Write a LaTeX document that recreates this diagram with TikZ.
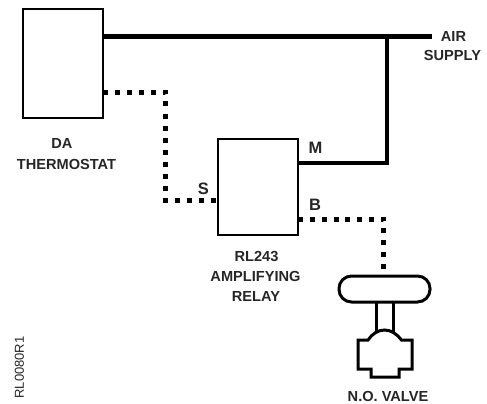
\documentclass[tikz,border=0pt]{standalone}
\usepackage{fontspec}
\setmainfont{Liberation Sans}
\usetikzlibrary{calc}
\tikzset{
  devicebox/.style={draw=black,line width=2.6pt,fill=white,inner sep=0pt,outer sep=0pt,anchor=north west},
  mainline/.style={line width=4.5pt,line cap=butt,line join=miter},
  branchone/.style={line width=5pt,dash pattern=on 5pt off 7.03pt,line join=miter},
  branchtwo/.style={line width=5pt,dash pattern=on 5pt off 6.85pt,line join=miter},
  valveline/.style={line width=3pt,line join=miter},
  lbl/.style={font=\bfseries\fontsize{14.6}{17}\selectfont,align=center,text=black!85,inner sep=0pt},
  portlbl/.style={font=\bfseries\fontsize{16.5}{18}\selectfont,text=black!85,inner sep=0pt}
}
\begin{document}
\begin{tikzpicture}[x=1pt,y=-1pt]
\useasboundingbox (0,0) rectangle (487,404);
% boxes
\node[devicebox,minimum width=80pt,minimum height=109pt] (th) at (23,9) {};
\node[devicebox,minimum width=80pt,minimum height=96pt] (rl) at (218,139) {};
% valve
\node[draw=black,line width=3pt,rounded corners=12.5pt,minimum width=91pt,minimum height=26pt,inner sep=0pt,outer sep=0pt,anchor=north west] (act) at (339,276) {};
\coordinate (stemL) at (376,301);
\coordinate (stemR) at (393,301);
\draw[valveline] (stemL) -- (376,332);
\draw[valveline] (stemR) -- (393,332);
\draw[valveline] (368,340) -- (358,340) -- (358,369) -- (371,369) -- (371,377) -- (399,377) -- (399,369) -- (412,369) -- (412,340) -- (401.5,340)
  .. controls (397,334) and (391,330) .. (384.5,330) .. controls (378,330) and (372,334) .. (368,340) -- cycle;
% supply lines
\coordinate (supplyend) at (432,36.7);
\coordinate (tee) at (387,36.7);
\coordinate (corner) at (387,163);
\draw[mainline] (th.east |- supplyend) -- (supplyend);
\draw[mainline] (tee) -- (corner) -- (rl.east |- corner);
% signal lines
\coordinate (c1) at (165.7,92);
\coordinate (c2) at (165.7,200.5);
\coordinate (c3) at (383.5,219);
\coordinate (vtop) at (383.5,269.2);
\draw[branchone] (th.east |- c1) -- (c1) -- (c2) -- (rl.west |- c2);
\draw[branchtwo] (rl.east |- c3) -- (c3) -- (vtop);
% labels
\node[lbl] (t1) at (62,143) {DA};
\node[lbl] (t2) at (66.5,164.7) {THERMOSTAT};
\node[lbl] (t3) at (256.5,256) {RL243};
\node[lbl] (t4) at (255.5,276) {AMPLIFYING};
\node[lbl] (t5) at (256,296) {RELAY};
\node[lbl] (t6) at (388,396) {N.O. VALVE};
\node[lbl] (t7) at (453.5,36) {AIR};
\node[lbl] (t8) at (452.5,55) {SUPPLY};
\node[portlbl] (s) at (203.5,189) {S};
\node[portlbl] (m) at (315.5,147.5) {M};
\node[portlbl] (b) at (315,204.6) {B};
\node[font=\fontsize{13}{15}\selectfont,text=black!85,rotate=90,inner sep=0pt] (id) at (19.5,367.5) {RL0080R1};
\end{tikzpicture}
\end{document}
